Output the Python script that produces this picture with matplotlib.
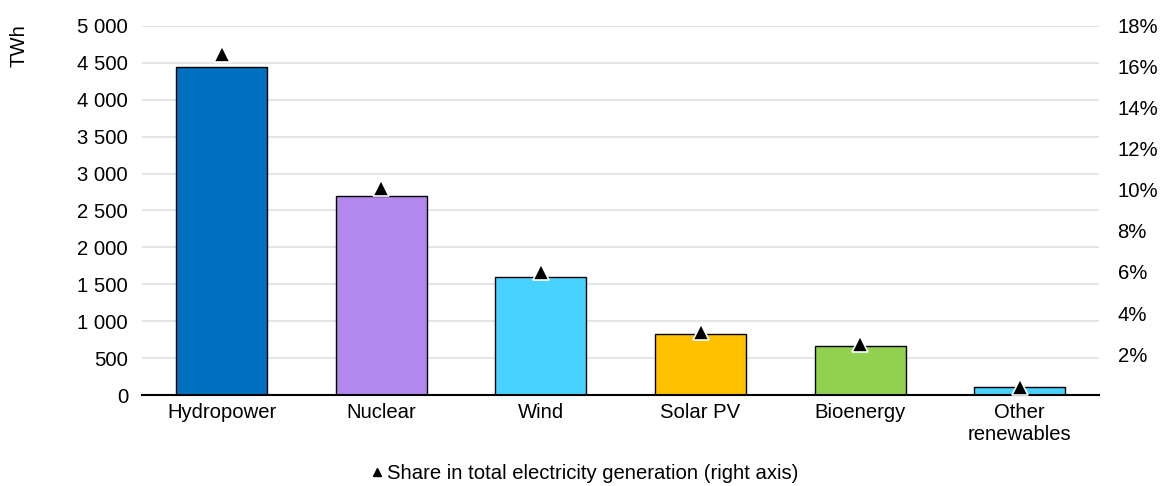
import numpy as np
import matplotlib.pyplot as plt
from matplotlib.lines import Line2D

plt.rcParams['font.family'] = ['Liberation Sans', 'DejaVu Sans']

# ------------------------------
# Data
# ------------------------------
categories = ['Hydropower', 'Nuclear', 'Wind', 'Solar PV', 'Bioenergy', 'Other\nrenewables']
generation_twh = [4440, 2700, 1600, 830, 670, 110]
share_pct = [16.6, 10.1, 6.0, 3.1, 2.5, 0.4]
bar_colors = ['#0070C0', '#B288EE', '#48D2FF', '#FFC000', '#92D050', '#48D2FF']

left_ticks = np.arange(0, 5001, 500)
right_ticks = np.arange(2, 19, 2)

FS = 14.6

# ------------------------------
# Figure
# ------------------------------
fig = plt.figure(figsize=(11.61, 4.86), dpi=100)
ax = fig.add_axes([0.1223, 0.187, 0.8247, 0.760])
ax2 = ax.twinx()

x = np.arange(len(categories))
ax.bar(x, generation_twh, width=0.57, color=bar_colors, edgecolor='black', linewidth=1, zorder=3)

ax.set_xlim(-0.5, len(categories) - 0.5)
ax.set_ylim(0, 5000)
ax.set_yticks(left_ticks)
ax.set_yticklabels([f'{v:,}'.replace(',', ' ') for v in left_ticks])
ax.set_xticks(x)
ax.set_xticklabels(categories, linespacing=1.15)
ax.grid(axis='y', color='#E0E0E0', linewidth=1.2, zorder=0)
ax.set_axisbelow(True)

for s in ['top', 'right', 'left']:
    ax.spines[s].set_visible(False)
ax.spines['bottom'].set_color('black')
ax.spines['bottom'].set_linewidth(1.5)
ax.spines['bottom'].set_zorder(5)
ax.tick_params(axis='both', length=0, labelsize=FS, colors='black')
ax.tick_params(axis='x', pad=6)
ax.tick_params(axis='y', pad=10)

ax.text(-0.128, 1.005, 'TWh', transform=ax.transAxes, rotation=90,
        ha='center', va='top', fontsize=FS)

# Right axis: share markers
ax2.plot(x, share_pct, linestyle='none', marker='^', markersize=12,
         color='black', markeredgecolor='white', markeredgewidth=1.2, zorder=6)
ax2.set_ylim(0, 18)
ax2.set_yticks(right_ticks)
ax2.set_yticklabels([f'{v}%' for v in right_ticks])
for s in ['top', 'right', 'left', 'bottom']:
    ax2.spines[s].set_visible(False)
ax2.tick_params(axis='y', length=0, labelsize=FS, pad=13, colors='black')

handle = Line2D([], [], linestyle='none', marker='^', markersize=6, color='black')
fig.legend([handle], ['Share in total electricity generation (right axis)'],
           loc='center', bbox_to_anchor=(0.503, 0.025), frameon=False,
           fontsize=FS, handletextpad=0.1, handlelength=0.8)

fig.savefig('out.png', dpi=100)
